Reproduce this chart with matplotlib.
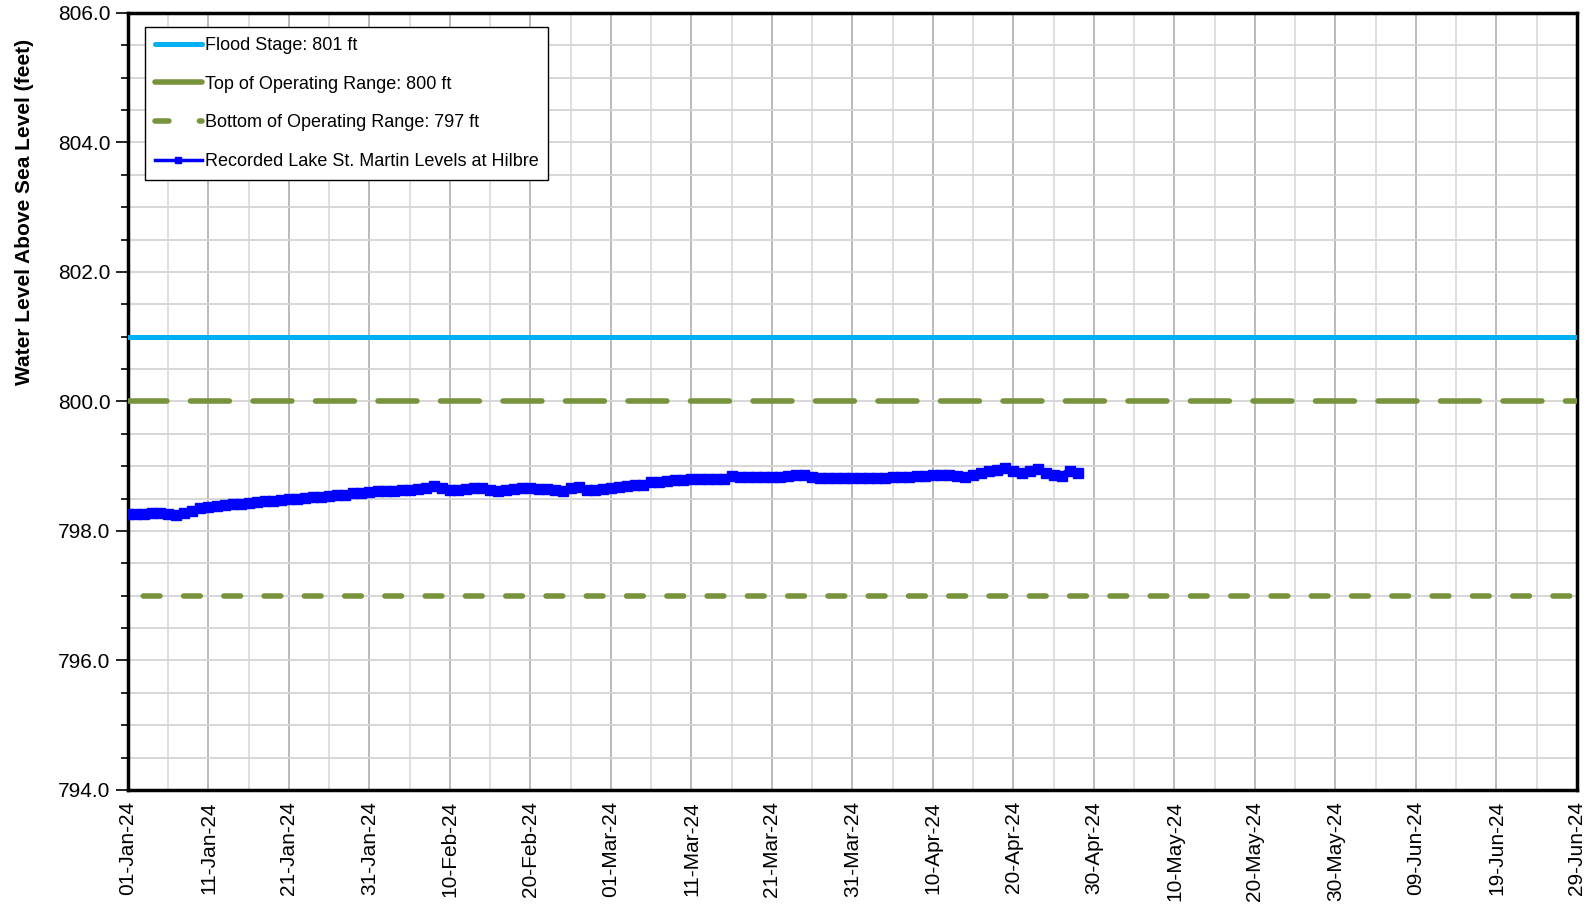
import numpy as np
import matplotlib
matplotlib.use("Agg")
import matplotlib.pyplot as plt
import matplotlib.dates as mdates
from matplotlib.lines import Line2D
import datetime as dt

plt.rcParams['font.family'] = ['Liberation Sans', 'DejaVu Sans']
plt.rcParams['lines.scale_dashes'] = False

# daily levels, 01-Jan-24 onwards
start = dt.date(2024, 1, 1)
levels = [798.26, 798.26, 798.26, 798.27, 798.28, 798.26, 798.25, 798.28, 798.31, 798.35,
          798.37, 798.39, 798.40, 798.41, 798.42, 798.43, 798.45, 798.46, 798.47, 798.48,
          798.49, 798.50, 798.51, 798.52, 798.53, 798.54, 798.55, 798.56, 798.58, 798.59,
          798.60, 798.61, 798.62, 798.62, 798.63, 798.64, 798.65, 798.66, 798.69, 798.66,
          798.63, 798.64, 798.65, 798.66, 798.66, 798.64, 798.62, 798.63, 798.65, 798.66,
          798.66, 798.65, 798.65, 798.64, 798.62, 798.66, 798.68, 798.64, 798.63, 798.65,
          798.66, 798.68, 798.70, 798.71, 798.71, 798.75, 798.76, 798.77, 798.78, 798.79,
          798.80, 798.80, 798.80, 798.80, 798.81, 798.85, 798.84, 798.83, 798.83, 798.84,
          798.84, 798.84, 798.85, 798.86, 798.86, 798.84, 798.82, 798.82, 798.82, 798.82,
          798.82, 798.82, 798.82, 798.82, 798.82, 798.83, 798.84, 798.84, 798.85, 798.85,
          798.86, 798.86, 798.86, 798.85, 798.84, 798.87, 798.90, 798.92, 798.94, 798.97,
          798.93, 798.90, 798.92, 798.95, 798.90, 798.86, 798.85, 798.93, 798.89]
dates = [start + dt.timedelta(days=i) for i in range(len(levels))]

flood_stage = 801
top_range = 800
bottom_range = 797
x_start = dt.date(2024, 1, 1)
x_end = dt.date(2024, 6, 29)

fig = plt.figure(figsize=(15.9, 9.08), dpi=100)
ax = fig.add_axes([0.0805, 0.13, 0.9113, 0.8557])

ax.axhline(flood_stage, color='#00b0f0', lw=3.6, zorder=3)
ax.axhline(top_range, color='#77933c', lw=4, linestyle=(0, (28, 17)), dash_capstyle='round', zorder=3)
ax.axhline(bottom_range, color='#77933c', lw=4, linestyle=(18, (12, 17)), dash_capstyle='round', zorder=3)
ax.plot(dates, levels, color='#0000ff', lw=5, marker='s', markersize=7, zorder=4)

ax.set_xlim(x_start, x_end)
ax.set_ylim(794, 806)

ticks = [x_start + dt.timedelta(days=d) for d in range(0, 181, 10)]
minor = [x_start + dt.timedelta(days=d) for d in range(5, 181, 10)]
ax.set_xticks(ticks)
ax.set_xticks(minor, minor=True)
ax.xaxis.set_major_formatter(mdates.DateFormatter('%d-%b-%y'))
ax.tick_params(axis='x', which='both', length=0, labelsize=15, rotation=90, pad=8)

ax.set_yticks(np.arange(794, 806.1, 2))
ax.set_yticks(np.arange(794, 806.1, 0.5), minor=True)
ax.yaxis.set_major_formatter(matplotlib.ticker.FormatStrFormatter('%.1f'))
ax.tick_params(axis='y', which='major', direction='out', length=9, width=1.2, labelsize=15)
ax.tick_params(axis='y', which='minor', direction='out', length=5, width=1.2)

ax.grid(which='major', axis='x', color='#b4b4b4', lw=1.3)
ax.grid(which='minor', axis='x', color='#dcdcdc', lw=1.3)
ax.grid(which='both', axis='y', color='#d4d4d4', lw=1.3)
ax.set_axisbelow(True)

for s in ax.spines.values():
    s.set_linewidth(2.5)

ax.set_ylabel('Water Level Above Sea Level (feet)', fontsize=15, fontweight='bold')
ax.yaxis.set_label_coords(-0.065, 0.744)

handles = [
    Line2D([], [], color='#00b0f0', lw=3.6, solid_capstyle='round'),
    Line2D([], [], color='#77933c', lw=4, solid_capstyle='round'),
    Line2D([], [], color='#77933c', lw=4, dashes=(10, 22), dash_capstyle='round'),
    Line2D([], [], color='#0000ff', lw=2.5, marker='s', markersize=5),
]
labels = ['Flood Stage: 801 ft', 'Top of Operating Range: 800 ft',
          'Bottom of Operating Range: 797 ft', 'Recorded Lake St. Martin Levels at Hilbre']
leg = ax.legend(handles, labels, loc='upper left', bbox_to_anchor=(0.0117, 0.982),
                borderaxespad=0, fontsize=13, handlelength=2.6, handletextpad=0.15,
                labelspacing=1.2, fancybox=False, framealpha=1, borderpad=0.55)
leg.get_frame().set_edgecolor('black')
leg.get_frame().set_linewidth(1)

fig.savefig('out.png', dpi=100)
